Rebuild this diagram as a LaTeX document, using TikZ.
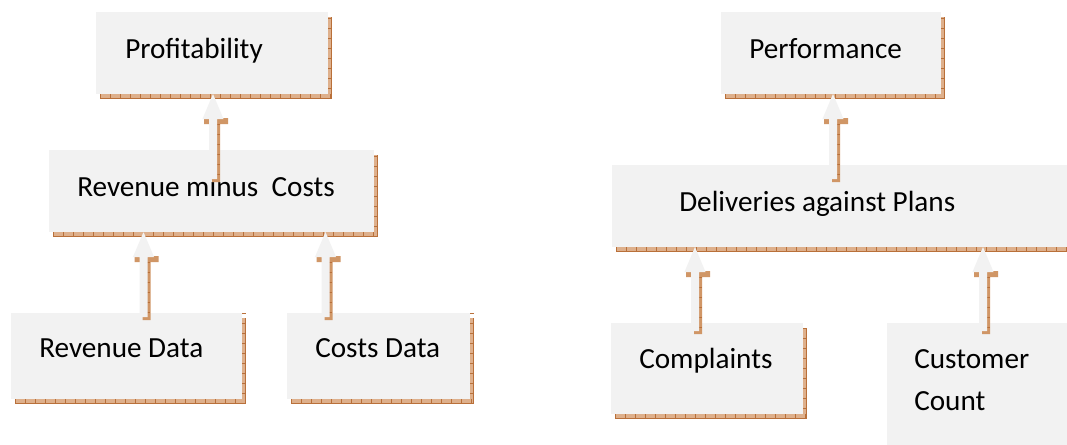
\documentclass[tikz,border=0pt]{standalone}
\usepackage{fontspec}
\setmainfont{Carlito}
\usetikzlibrary{calc,backgrounds,fit}
\definecolor{boxfill}{HTML}{F2F2F2}
\definecolor{shadowbrown}{RGB}{222,176,140}
\definecolor{arrowbrown}{RGB}{208,150,102}
\definecolor{tickbrown}{RGB}{185,112,58}
\newcommand\bshadow[1]{%
  \fill[shadowbrown] ([xshift=3pt,yshift=-3.75pt]#1.south west) rectangle ([xshift=3pt,yshift=-3.75pt]#1.north east);
  \draw[tickbrown, line width=3.75pt, dash pattern=on 0.5pt off 7pt] ([xshift=3pt,yshift=-1.875pt]#1.south west) -- ([xshift=3pt,yshift=-1.875pt]#1.south east);
  \draw[tickbrown, line width=3pt, dash pattern=on 0.5pt off 7pt] ([xshift=1.5pt,yshift=-3.75pt]#1.south east) -- ([xshift=1.5pt]#1.north east);
  \draw[tickbrown, line width=0.6pt] ([xshift=3pt,yshift=-3.45pt]#1.south west) -- ([xshift=2.7pt,yshift=-3.45pt]#1.south east) -- ([xshift=2.7pt,yshift=-3.75pt]#1.north east);
}
% #1 tip point, #2 tail node, #3 depth of tail below node top
\newcommand\blockarrow[3]{%
  \fill[arrowbrown] let \p1=#1, \p2=(#2.north) in
    (\x1-6.75pt,\y1-18pt) -- (\x1+11.25pt,\y1-18pt) -- (\x1+11.25pt,\y1-22.5pt) -- (\x1+5.25pt,\y1-22.5pt)
    -- (\x1+5.25pt,\y2-#3-2.25pt) -- (\x1-0.75pt,\y2-#3-2.25pt) -- (\x1-0.75pt,\y1-22.5pt) -- (\x1-6.75pt,\y1-22.5pt) -- cycle;
  \draw[tickbrown, line width=2.25pt, dash pattern=on 0.5pt off 7pt] let \p1=#1, \p2=(#2.north) in
    (\x1+4.1pt,\y1-22.5pt) -- (\x1+4.1pt,\y2-#3-2.25pt);
  \fill[boxfill] let \p1=#1, \p2=(#2.north) in
    (\x1,\y1) -- (\x1+7.9pt,\y1-18.75pt) -- (\x1+3pt,\y1-18.75pt) -- (\x1+3pt,\y2-#3)
    -- (\x1-3pt,\y2-#3) -- (\x1-3pt,\y1-18.75pt) -- (\x1-7.9pt,\y1-18.75pt) -- cycle;
}
\begin{document}
\begin{tikzpicture}[x=0.75pt,y=-0.75pt,
  box/.style={fill=boxfill, inner sep=0pt, outer sep=0pt},
  lbl/.style={inner sep=0pt, anchor=base west, align=left, font=\fontsize{21.9pt}{31.5pt}\selectfont}]
\useasboundingbox (0,0) rectangle (1067,444);
\clip (0,0) rectangle (1067,444);
% boxes
\node[box, fit={(96,12) (328,94)}] (profit) {};
\node[box, fit={(49,150) (374,232)}] (rmc) {};
\node[box, fit={(11,313) (242,399)}] (revdata) {};
\node[box, fit={(287,313) (470,399)}] (costdata) {};
\node[box, fit={(721,12) (941,94)}] (perf) {};
\node[box, fit={(612,165) (1080,247)}] (deliv) {};
\node[box, fit={(611,323) (803,414)}] (compl) {};
\node[box, fit={(887,323) (1080,460)}] (cust) {};
% labels
\node[lbl] (profitT) at (125,58) {Profitability};
\node[lbl] (rmcT) at (77,196) {Revenue minus\ \ Costs};
\node[lbl] (revdataT) at (39,357) {Revenue Data};
\node[lbl] (costdataT) at (315,357) {Costs Data};
\node[lbl] (perfT) at (749,58) {Performance};
\node[lbl] (delivT) at (679,211) {Deliveries against Plans};
\node[lbl] (complT) at (639,368) {Complaints};
\node[lbl] (custT) at (914,410) {Customer\\Count};
% shadows and background
\begin{scope}[on background layer]
  \fill[white] (0,0) rectangle (1067,444);
  \bshadow{profit}
  \bshadow{rmc}
  \bshadow{revdata}
  \bshadow{costdata}
  \bshadow{perf}
  \bshadow{deliv}
  \bshadow{compl}
  \bshadow{cust}
\end{scope}
% block arrows
\blockarrow{([xshift=0.75pt]profit.south)}{rmc}{21.75pt}
\blockarrow{([xshift=-51pt]rmc.south)}{revdata}{3pt}
\blockarrow{([xshift=85.5pt]rmc.south)}{costdata}{3pt}
\blockarrow{([xshift=1.5pt]perf.south)}{deliv}{10.5pt}
\blockarrow{(695,247)}{compl}{6pt}
\blockarrow{(983,247)}{cust}{6pt}
\end{tikzpicture}
\end{document}
